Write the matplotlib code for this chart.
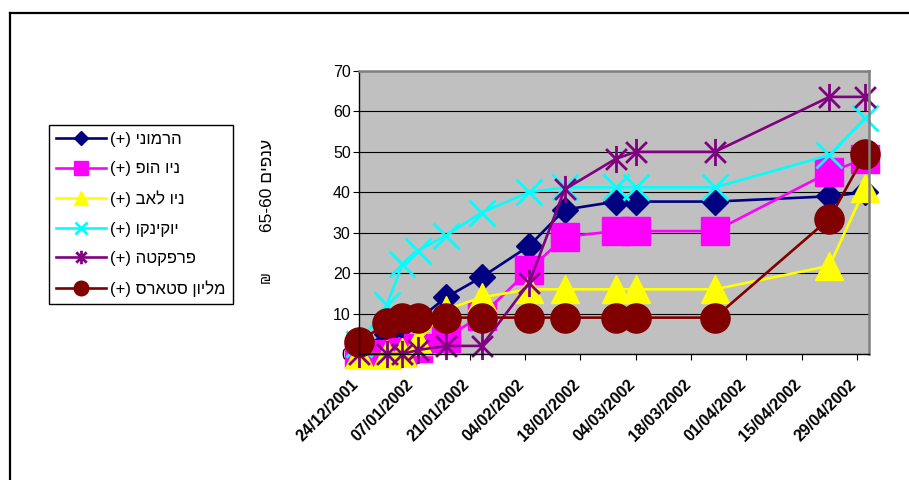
import re
import datetime as dt
import matplotlib
matplotlib.use('Agg')
import matplotlib.pyplot as plt
import matplotlib.dates as mdates
from matplotlib.path import Path
from matplotlib.lines import Line2D
from matplotlib.transforms import ScaledTranslation

plt.rcParams['font.family'] = ['Liberation Sans', 'DejaVu Sans']

# ---------------- data ----------------
dates = ['2001-12-24', '2001-12-31', '2002-01-04', '2002-01-08', '2002-01-15',
         '2002-01-24', '2002-02-05', '2002-02-14', '2002-02-27', '2002-03-04',
         '2002-03-24', '2002-04-22', '2002-05-01']
series_names = ['הרמוני (+)', 'ניו הופ (+)', 'ניו לאב (+)', 'יוקינקו (+)',
                'פרפקטה (+)', 'מליון סטארס (+)']
harmony = [1, 5, 7, 8.5, 14, 19, 26.7, 35.7, 37.7, 37.7, 37.7, 39, 40]
new_hope = [0, 0, 0.5, 1.6, 4, 9.5, 20.7, 29, 30.4, 30.4, 30.4, 45, 48.3]
new_love = [0, 0, 0.5, 3.3, 11, 14, 16, 16, 16, 16, 16, 21.8, 41]
yokinko = [2.5, 12, 22.3, 25.6, 29.3, 35, 40, 41.2, 41.2, 41.2, 41.2, 49.2, 58.3]
perfecta = [0, 0, 0, 1, 2, 2, 17.5, 40.7, 48.3, 50, 50, 63.6, 63.6]
million_stars = [3, 7.6, 8.8, 9, 9, 9, 9, 9, 9, 9, 9, 33.5, 49.4]
tick_dates = ['2001-12-24', '2002-01-07', '2002-01-21', '2002-02-04', '2002-02-18',
              '2002-03-04', '2002-03-18', '2002-04-01', '2002-04-15', '2002-04-29']
y_ticks = [0, 10, 20, 30, 40, 50, 60, 70]
y_label = 'ענפים 65-60'
y_unit = '₪'


def visual(s):
    """Convert logical RTL Hebrew string to left-to-right visual order."""
    r = s[::-1]
    r = r.translate(str.maketrans('()', ')('))
    r = re.sub(r'[0-9][0-9\-./]*[0-9]|[0-9]', lambda m: m.group(0)[::-1], r)
    return r


def d(s):
    return dt.datetime.strptime(s, '%Y-%m-%d')


x = [d(s) for s in dates]

asterisk = Path([(-1, -1), (1, 1), (-1, 1), (1, -1), (0, -1.3), (0, 1.3)],
                [Path.MOVETO, Path.LINETO, Path.MOVETO, Path.LINETO,
                 Path.MOVETO, Path.LINETO])

styles = [
    dict(color='#000080', marker='D', ms=13.5, mfc='#000080', mec='#000080'),
    dict(color='#FF00FF', marker='s', ms=19.5, mfc='#FF00FF', mec='#FF00FF'),
    dict(color='#FFFF00', marker='^', ms=19.5, mfc='#FFFF00', mec='#FFFF00'),
    dict(color='#00FFFF', marker='x', ms=18.5, mec='#00FFFF', mew=2.0),
    dict(color='#800080', marker=asterisk, ms=19.5, mec='#800080', mew=2.0, mfc='none'),
    dict(color='#800000', marker='o', ms=21, mfc='#800000', mec='#800000'),
]
values = [harmony, new_hope, new_love, yokinko, perfecta, million_stars]

W, H = 909, 480
fig = plt.figure(figsize=(W / 100, H / 100), dpi=100)
L, R, T, B = 359, 869, 71, 354
ax = fig.add_axes([L / W, 1 - B / H, (R - L) / W, (B - T) / H])
ax.set_facecolor('#C0C0C0')

handles = []
for name, vals, st in zip(series_names, values, styles):
    ln, = ax.plot(x, vals, lw=1.9, clip_on=False, label=visual(name), **st)
    handles.append(ln)

ax.set_ylim(0, 70)
ax.set_xlim(d('2001-12-24'), d('2001-12-24') + dt.timedelta(days=129))
ax.set_yticks(y_ticks)
ax.yaxis.grid(True, color='black', lw=0.8)
ax.set_axisbelow(True)

ax.set_xticks([mdates.date2num(d(s)) for s in tick_dates])
ax.set_xticklabels([d(s).strftime('%d/%m/%Y') for s in tick_dates],
                   fontsize=11.5, fontweight='bold')
ax.tick_params(axis='x', direction='out', length=4, width=0.8, pad=16.5)
ax.tick_params(axis='y', direction='out', length=4, width=0.8, pad=2, labelsize=11.5)
off = ScaledTranslation(-3 / 100, 0, fig.dpi_scale_trans)
for lab in ax.get_xticklabels():
    lab.set_rotation(45)
    lab.set_ha('right')
    lab.set_va('center')
    lab.set_rotation_mode('anchor')
    lab.set_transform(lab.get_transform() + off)

for side in ['top', 'right']:
    ax.spines[side].set_color('#808080')
    ax.spines[side].set_linewidth(1.8)
for side in ['left', 'bottom']:
    ax.spines[side].set_color('black')
    ax.spines[side].set_linewidth(1.0)

leg = fig.legend(handles=handles, loc='upper left',
                 bbox_to_anchor=(48.5 / W, 1 - 125 / H), borderaxespad=0,
                 fontsize=12, markerscale=0.5, handlelength=3.0,
                 handletextpad=0.3, labelspacing=0.86, borderpad=0.42,
                 fancybox=False, frameon=True, edgecolor='black', framealpha=1)
leg.get_frame().set_linewidth(1.0)

fig.text(267 / W, 1 - 185 / H, visual(y_label), rotation=90, ha='center',
         va='center', fontsize=12.5)
fig.text(266 / W, 1 - 277 / H, y_unit, rotation=90, ha='center', va='center',
         fontsize=10)

# outer chart border
fig.add_artist(Line2D([10 / W, 10 / W], [0, 1 - 13 / H], color='black', lw=1.6,
                      transform=fig.transFigure))
fig.add_artist(Line2D([10 / W, 1], [1 - 13 / H, 1 - 13 / H], color='black', lw=1.6,
                      transform=fig.transFigure))

fig.savefig('out.png', dpi=100)
